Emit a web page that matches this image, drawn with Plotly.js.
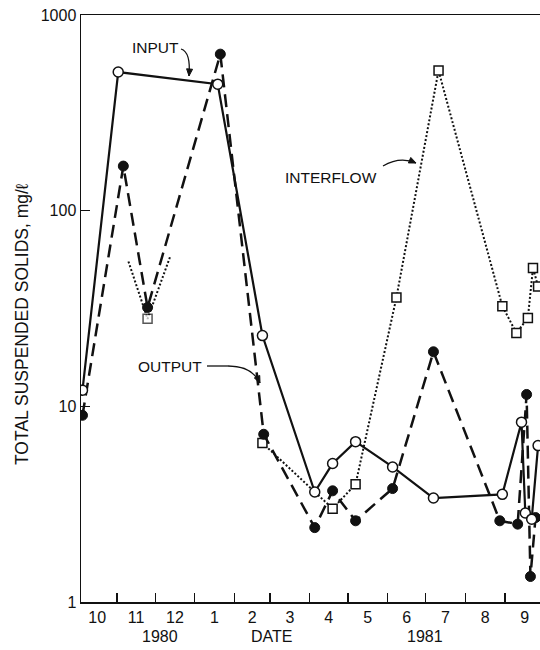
<!DOCTYPE html>
<html><head><meta charset="utf-8">
<script src="https://cdn.plot.ly/plotly-3.0.1.min.js"></script>
<style>html,body{margin:0;padding:0;background:#fff}</style>
</head><body><div id="chart" style="width:540px;height:650px"></div>
<script>
// ---- data ----
const inputDates = ["1980-10-05","1980-11-02","1981-01-19","1981-02-23","1981-04-05","1981-04-19","1981-05-07","1981-06-05","1981-07-07","1981-08-30","1981-09-14","1981-09-17","1981-09-22","1981-09-27"];
const inputValues = [12.1, 511, 443, 23, 3.65, 5.1, 6.6, 4.9, 3.4, 3.55, 8.3, 2.85, 2.65, 6.3];

const outputDates = ["1980-10-05","1980-11-06","1980-11-25","1981-01-21","1981-02-24","1981-04-05","1981-04-19","1981-05-07","1981-06-05","1981-07-07","1981-08-28","1981-09-11","1981-09-18","1981-09-21","1981-09-25"];
const outputValues = [9.0, 169, 32, 631, 7.2, 2.4, 3.7, 2.6, 3.8, 19, 2.6, 2.5, 11.5, 1.35, 2.7];

const interflowEarlyDates = ["1980-11-10","1980-11-25","1980-12-13"];
const interflowEarlyValues = [55, 28, 59];

const interflowDates = ["1981-02-23","1981-04-19","1981-05-07","1981-06-08","1981-07-11","1981-08-30","1981-09-10","1981-09-19","1981-09-23","1981-09-27"];
const interflowValues = [6.5, 3.0, 4.0, 36, 520, 32.5, 23.7, 28.3, 51, 41];

const yTickVals = [1, 10, 100, 1000];
const yTickText = ["1", "10", "100", "1000"];

// ---- layout helpers (pixel -> paper) ----
const L = 81, T = 15, B = 602, W = 459;
const H = B - T;
const px = x => (x - L) / W;
const py = y => (B - y) / H;

function curveArrow(x0, y0, cx, cy, x1, y1) {
  const path = `M${px(x0)},${py(y0)} Q${px(cx)},${py(cy)} ${px(x1)},${py(y1)}`;
  let dx = x1 - cx, dy = y1 - cy;
  const len = Math.hypot(dx, dy); dx /= len; dy /= len;
  const hl = 7, hw = 3;
  const bx = x1 - dx * hl, by = y1 - dy * hl;
  const lx = bx - dy * hw, ly = by + dx * hw;
  const rx = bx + dy * hw, ry = by - dx * hw;
  return [
    {type: 'path', xref: 'paper', yref: 'paper', path, line: {color: '#111', width: 1.3}},
    {type: 'path', xref: 'paper', yref: 'paper',
     path: `M${px(x1)},${py(y1)} L${px(lx)},${py(ly)} L${px(rx)},${py(ry)} Z`,
     fillcolor: '#111', line: {color: '#111', width: 1}}
  ];
}

const FONT = 'Liberation Sans, Arial, sans-serif';

const traces = [
  {x: interflowEarlyDates, y: interflowEarlyValues, mode: 'lines+markers', name: 'INTERFLOW',
   line: {color: '#111', width: 2, dash: '2px,2px'},
   marker: {symbol: 'square', size: [0, 9, 0], color: '#fff', line: {color: '#111', width: 1.5}},
   cliponaxis: true},
  {x: interflowDates, y: interflowValues, mode: 'lines+markers', name: 'INTERFLOW',
   line: {color: '#111', width: 2, dash: '2px,2px'},
   marker: {symbol: 'square', size: 9, color: '#fff', line: {color: '#111', width: 1.5}}},
  {x: outputDates, y: outputValues, mode: 'lines+markers', name: 'OUTPUT',
   line: {color: '#111', width: 2.5, dash: '13px,7px'},
   marker: {symbol: 'circle', size: 10, color: '#111', line: {color: '#111', width: 1}}},
  {x: inputDates, y: inputValues, mode: 'lines+markers', name: 'INPUT',
   line: {color: '#111', width: 2.2},
   marker: {symbol: 'circle', size: 10, color: '#fff', line: {color: '#111', width: 1.5}}}
];

const layout = {
  width: 540, height: 650,
  margin: {l: L, r: 0, t: T, b: 650 - B},
  paper_bgcolor: '#fff', plot_bgcolor: '#fff',
  showlegend: false,
  font: {family: FONT, color: '#111', size: 16},
  xaxis: {
    type: 'date',
    range: ['1980-10-03 20:00', '1981-09-28 12:00'],
    tick0: '1980-11-01', dtick: 'M1',
    tickformat: '%-m', ticklabelmode: 'period',
    ticks: 'inside', ticklen: 9, tickwidth: 1.3, tickcolor: '#111',
    showline: true, linecolor: '#111', linewidth: 1.5, mirror: true,
    showgrid: false, zeroline: false,
    tickfont: {family: FONT, size: 16, color: '#111'}
  },
  yaxis: {
    type: 'log', range: [0, 3],
    tickmode: 'array', tickvals: yTickVals, ticktext: yTickText,
    ticks: 'inside', ticklen: 9, tickwidth: 1.3, tickcolor: '#111',
    showline: true, linecolor: '#111', linewidth: 1.5,
    showgrid: false, zeroline: false,
    tickfont: {family: FONT, size: 16, color: '#111'}
  },
  annotations: [
    {xref: 'paper', yref: 'paper', x: px(22), y: py(324), text: 'TOTAL SUSPENDED SOLIDS, mg/ℓ',
     textangle: -90, showarrow: false, xanchor: 'center', yanchor: 'middle',
     font: {family: FONT, size: 17.5, color: '#111'}},
    {xref: 'paper', yref: 'paper', x: px(160), y: py(636), text: '1980', showarrow: false,
     xanchor: 'center', yanchor: 'middle', font: {family: FONT, size: 16}},
    {xref: 'paper', yref: 'paper', x: px(271), y: py(636), text: 'DATE', showarrow: false,
     xanchor: 'center', yanchor: 'middle', font: {family: FONT, size: 16}},
    {xref: 'paper', yref: 'paper', x: px(425), y: py(636), text: '1981', showarrow: false,
     xanchor: 'center', yanchor: 'middle', font: {family: FONT, size: 16}},
    {xref: 'paper', yref: 'paper', x: px(155), y: py(47), text: 'INPUT', showarrow: false,
     xanchor: 'center', yanchor: 'middle', font: {family: FONT, size: 15.5}},
    {xref: 'paper', yref: 'paper', x: px(331), y: py(177), text: 'INTERFLOW', showarrow: false,
     xanchor: 'center', yanchor: 'middle', font: {family: FONT, size: 15.5}},
    {xref: 'paper', yref: 'paper', x: px(170), y: py(366), text: 'OUTPUT', showarrow: false,
     xanchor: 'center', yanchor: 'middle', font: {family: FONT, size: 15.5}}
  ],
  shapes: [
    ...curveArrow(181, 49, 191, 52, 189, 76),
    ...curveArrow(383, 166, 400, 156, 416, 163),
    {type: 'path', xref: 'paper', yref: 'paper',
     path: `M${px(207)},${py(366)} L${px(228)},${py(366)}`, line: {color: '#111', width: 1.3}},
    ...curveArrow(228, 366, 252, 366, 260, 383)
  ]
};

Plotly.newPlot('chart', traces, layout, {displayModeBar: false, staticPlot: true});
</script>
</body></html>
